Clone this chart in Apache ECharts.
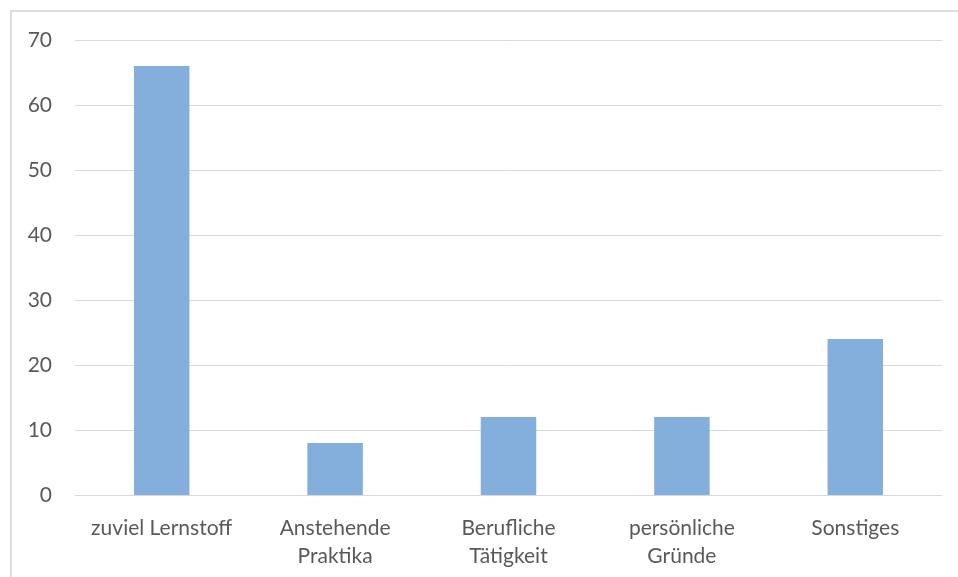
<!DOCTYPE html>
<html>
<head>
<meta charset="utf-8">
<script src="https://cdn.jsdelivr.net/npm/echarts@6/dist/echarts.min.js"></script>
<style>
  html, body { margin: 0; padding: 0; background: #fff; overflow: hidden; }
  #frame { position: absolute; left: 10px; top: 10px; width: 1000px; height: 600px; border: 2px solid #dedede; box-sizing: border-box; }
  #chart { position: absolute; left: 0; top: 0; width: 958px; height: 577px; }
</style>
</head>
<body>
<div id="frame"></div>
<div id="chart"></div>
<script>
var categories = ["zuviel Lernstoff", "Anstehende\nPraktika", "Berufliche\nTätigkeit", "persönliche\nGründe", "Sonstiges"];
var values = [66, 8, 12, 12, 24];
var yTicks = { min: 0, max: 70, interval: 10 };

var myChart = echarts.init(document.getElementById("chart"), null, { renderer: "canvas" });
var font = "Lato, 'Open Sans', sans-serif";

var options = {
  animation: false,
  grid: { left: 75, right: 16, top: 40, bottom: 82, containLabel: false },
  xAxis: {
    type: "category",
    data: categories,
    axisLine: { show: true, lineStyle: { color: "#d9d9d9", width: 1 } },
    axisTick: { show: false },
    axisLabel: {
      color: "#595959",
      fontSize: 21,
      fontFamily: font,
      margin: 19,
      lineHeight: 28,
      interval: 0
    }
  },
  yAxis: {
    type: "value",
    min: yTicks.min,
    max: yTicks.max,
    interval: yTicks.interval,
    axisLine: { show: false },
    axisTick: { show: false },
    splitLine: { lineStyle: { color: "#d9d9d9", width: 1 } },
    axisLabel: {
      color: "#595959",
      fontSize: 21,
      fontFamily: font,
      margin: 23
    }
  },
  series: [{
    type: "bar",
    data: values,
    barWidth: "32%",
    itemStyle: { color: "#84aedc" }
  }]
};

myChart.setOption(options);
</script>
</body>
</html>
